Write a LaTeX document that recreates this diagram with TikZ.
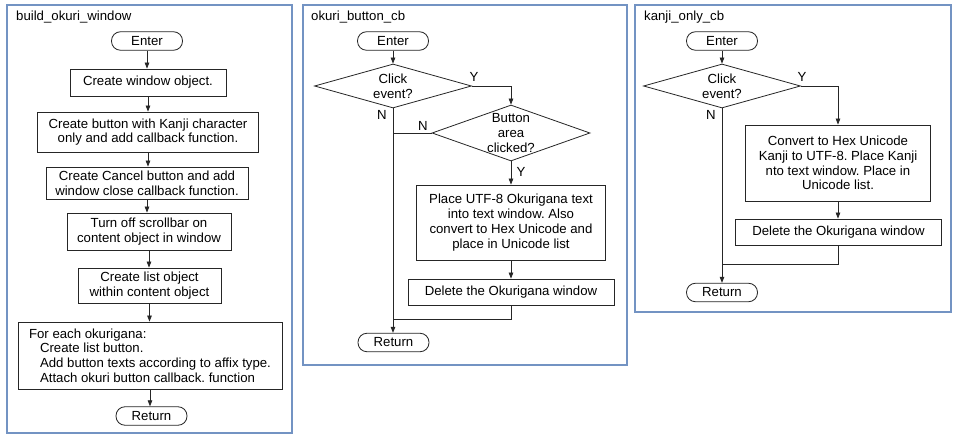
\documentclass[tikz,border=0pt]{standalone}
\usepackage{fontspec}
\setmainfont{Liberation Sans}
\usetikzlibrary{arrows.meta,shapes.geometric,calc}
\definecolor{panelblue}{HTML}{7393C3}
\definecolor{linegray}{HTML}{262626}
\newcommand{\fs}{\fontsize{13.2}{14.8}\selectfont\frenchspacing}
\tikzset{
  x=1pt, y=-1pt,
  panel/.style={draw=panelblue, line width=1.1pt},
  title/.style={anchor=west, inner sep=0, font=\fs},
  proc/.style={draw=linegray, line width=0.8pt, inner sep=0, align=center, font=\fs},
  term/.style={draw=linegray, line width=0.8pt, rounded corners=9pt, minimum width=71pt, minimum height=18.5pt, inner sep=0, font=\fs},
  dec/.style={draw=linegray, line width=0.8pt, diamond, inner sep=0},
  dectext/.style={label={[inner sep=0, align=center, font=\fs]center:#1}},
  lbl/.style={inner sep=0, font=\fs},
  conn/.style={draw=linegray, line width=0.8pt},
  arr/.style={conn, -{Triangle[length=6pt,width=4.5pt]}},
}
\begin{document}
\begin{tikzpicture}
\useasboundingbox (0,0) rectangle (959,443);
\fill[white] (0,0) rectangle (959,443);

% ---------------- Panel 1 ----------------
\draw[panel] (7,5) rectangle (292,433);
\node[title] (t1) at (16,17) {build\_okuri\_window};
\node[term] (enter1) at (147,41) {Enter};
\node[proc, minimum width=156pt, minimum height=27pt] (b1) at (148,82.5) {Create window object.};
\node[proc, minimum width=221pt, minimum height=40pt] (b2) at (148,132) {Create button with Kanji character\\only and add callback function.};
\node[proc, minimum width=202pt, minimum height=32pt] (b3) at (147,183) {Create Cancel button and add\\window close callback function.};
\node[proc, minimum width=164pt, minimum height=37pt] (b4) at (149,231.5) {Turn off scrollbar on\\content object in window};
\node[proc, minimum width=143pt, minimum height=35pt] (b5) at (149.5,285.5) {Create list object\\within content object};
\node[proc, minimum width=264pt, minimum height=67pt, align=left] (b6) at (150,355.5)
  {For each okurigana:\\\hspace*{11pt}Create list button.\\\hspace*{11pt}Add button texts according to affix type.\\\hspace*{11pt}Attach okuri button callback. function};
\node[term] (ret1) at (151.5,416) {Return};
\draw[arr] (enter1.south) -- (enter1.south |- b1.north);
\draw[arr] (b1.south) -- (b1.south |- b2.north);
\draw[arr] (b2.south) -- (b2.south |- b3.north);
\draw[arr] (b3.south) -- (b3.south |- b4.north);
\draw[arr] (b4.south) -- (b4.south |- b5.north);
\draw[arr] (b5.south) -- (b5.south |- b6.north);
\draw[arr] (b6.south) -- (b6.south |- ret1.north);

% ---------------- Panel 2 ----------------
\draw[panel] (303,5) rectangle (627,365);
\node[title] (t2) at (311,17) {okuri\_button\_cb};
\node[term] (enter2) at (393,41) {Enter};
\node[dec, minimum width=157pt, minimum height=44pt, dectext={Click\\event?}] (d1) at (393,86) {};
\node[dec, minimum width=158pt, minimum height=56pt, dectext={Button\\area\\clicked?}] (d2) at (511,133) {};
\node[proc, minimum width=189pt, minimum height=75pt] (p2) at (511,222.5) {Place UTF-8 Okurigana text\\into text window. Also\\convert to Hex Unicode and\\place in Unicode list};
\node[proc, minimum width=206pt, minimum height=26pt] (del2) at (511,292) {Delete the Okurigana window};
\node[term] (ret2) at (393.5,342.5) {Return};
\coordinate (j2) at (393,319);
\coordinate (n2) at (393,133);
\draw[arr] (enter2.south) -- (d1.north);
\draw[arr] (d1.east) -| (d2.north);
\draw[conn] (d2.west) -- (n2);
\draw[arr] (d1.south) -- (d1.south |- ret2.north);
\draw[arr] (d2.south) -- (p2.north);
\draw[arr] (p2.south) -- (del2.north);
\draw[conn] (del2.south) |- (j2);
\node[lbl] (y21) at (474,77) {Y};
\node[lbl] (n21) at (382,115) {N};
\node[lbl] (n22) at (423,126) {N};
\node[lbl] (y22) at (521,172) {Y};

% ---------------- Panel 3 ----------------
\draw[panel] (635,5) rectangle (951,312);
\node[title] (t3) at (644,17) {kanji\_only\_cb};
\node[term] (enter3) at (722,41) {Enter};
\node[dec, minimum width=157pt, minimum height=44pt, dectext={Click\\event?}] (d3) at (722,86) {};
\node[proc, minimum width=185pt, minimum height=76pt] (p3) at (838,163) {Convert to Hex Unicode\\Kanji to UTF-8. Place Kanji\\nto text window. Place in\\Unicode list.};
\node[proc, minimum width=206pt, minimum height=26pt] (del3) at (838.5,232) {Delete the Okurigana window};
\node[term] (ret3) at (722,292.5) {Return};
\coordinate (j3) at (722,264);
\draw[arr] (enter3.south) -- (d3.north);
\draw[arr] (d3.east) -| (p3.north);
\draw[arr] (d3.south) -- (d3.south |- ret3.north);
\draw[arr] (p3.south) -- (p3.south |- del3.north);
\draw[conn] (del3.south) |- (j3);
\node[lbl] (y31) at (802,77) {Y};
\node[lbl] (n31) at (711,115) {N};
\end{tikzpicture}
\end{document}
